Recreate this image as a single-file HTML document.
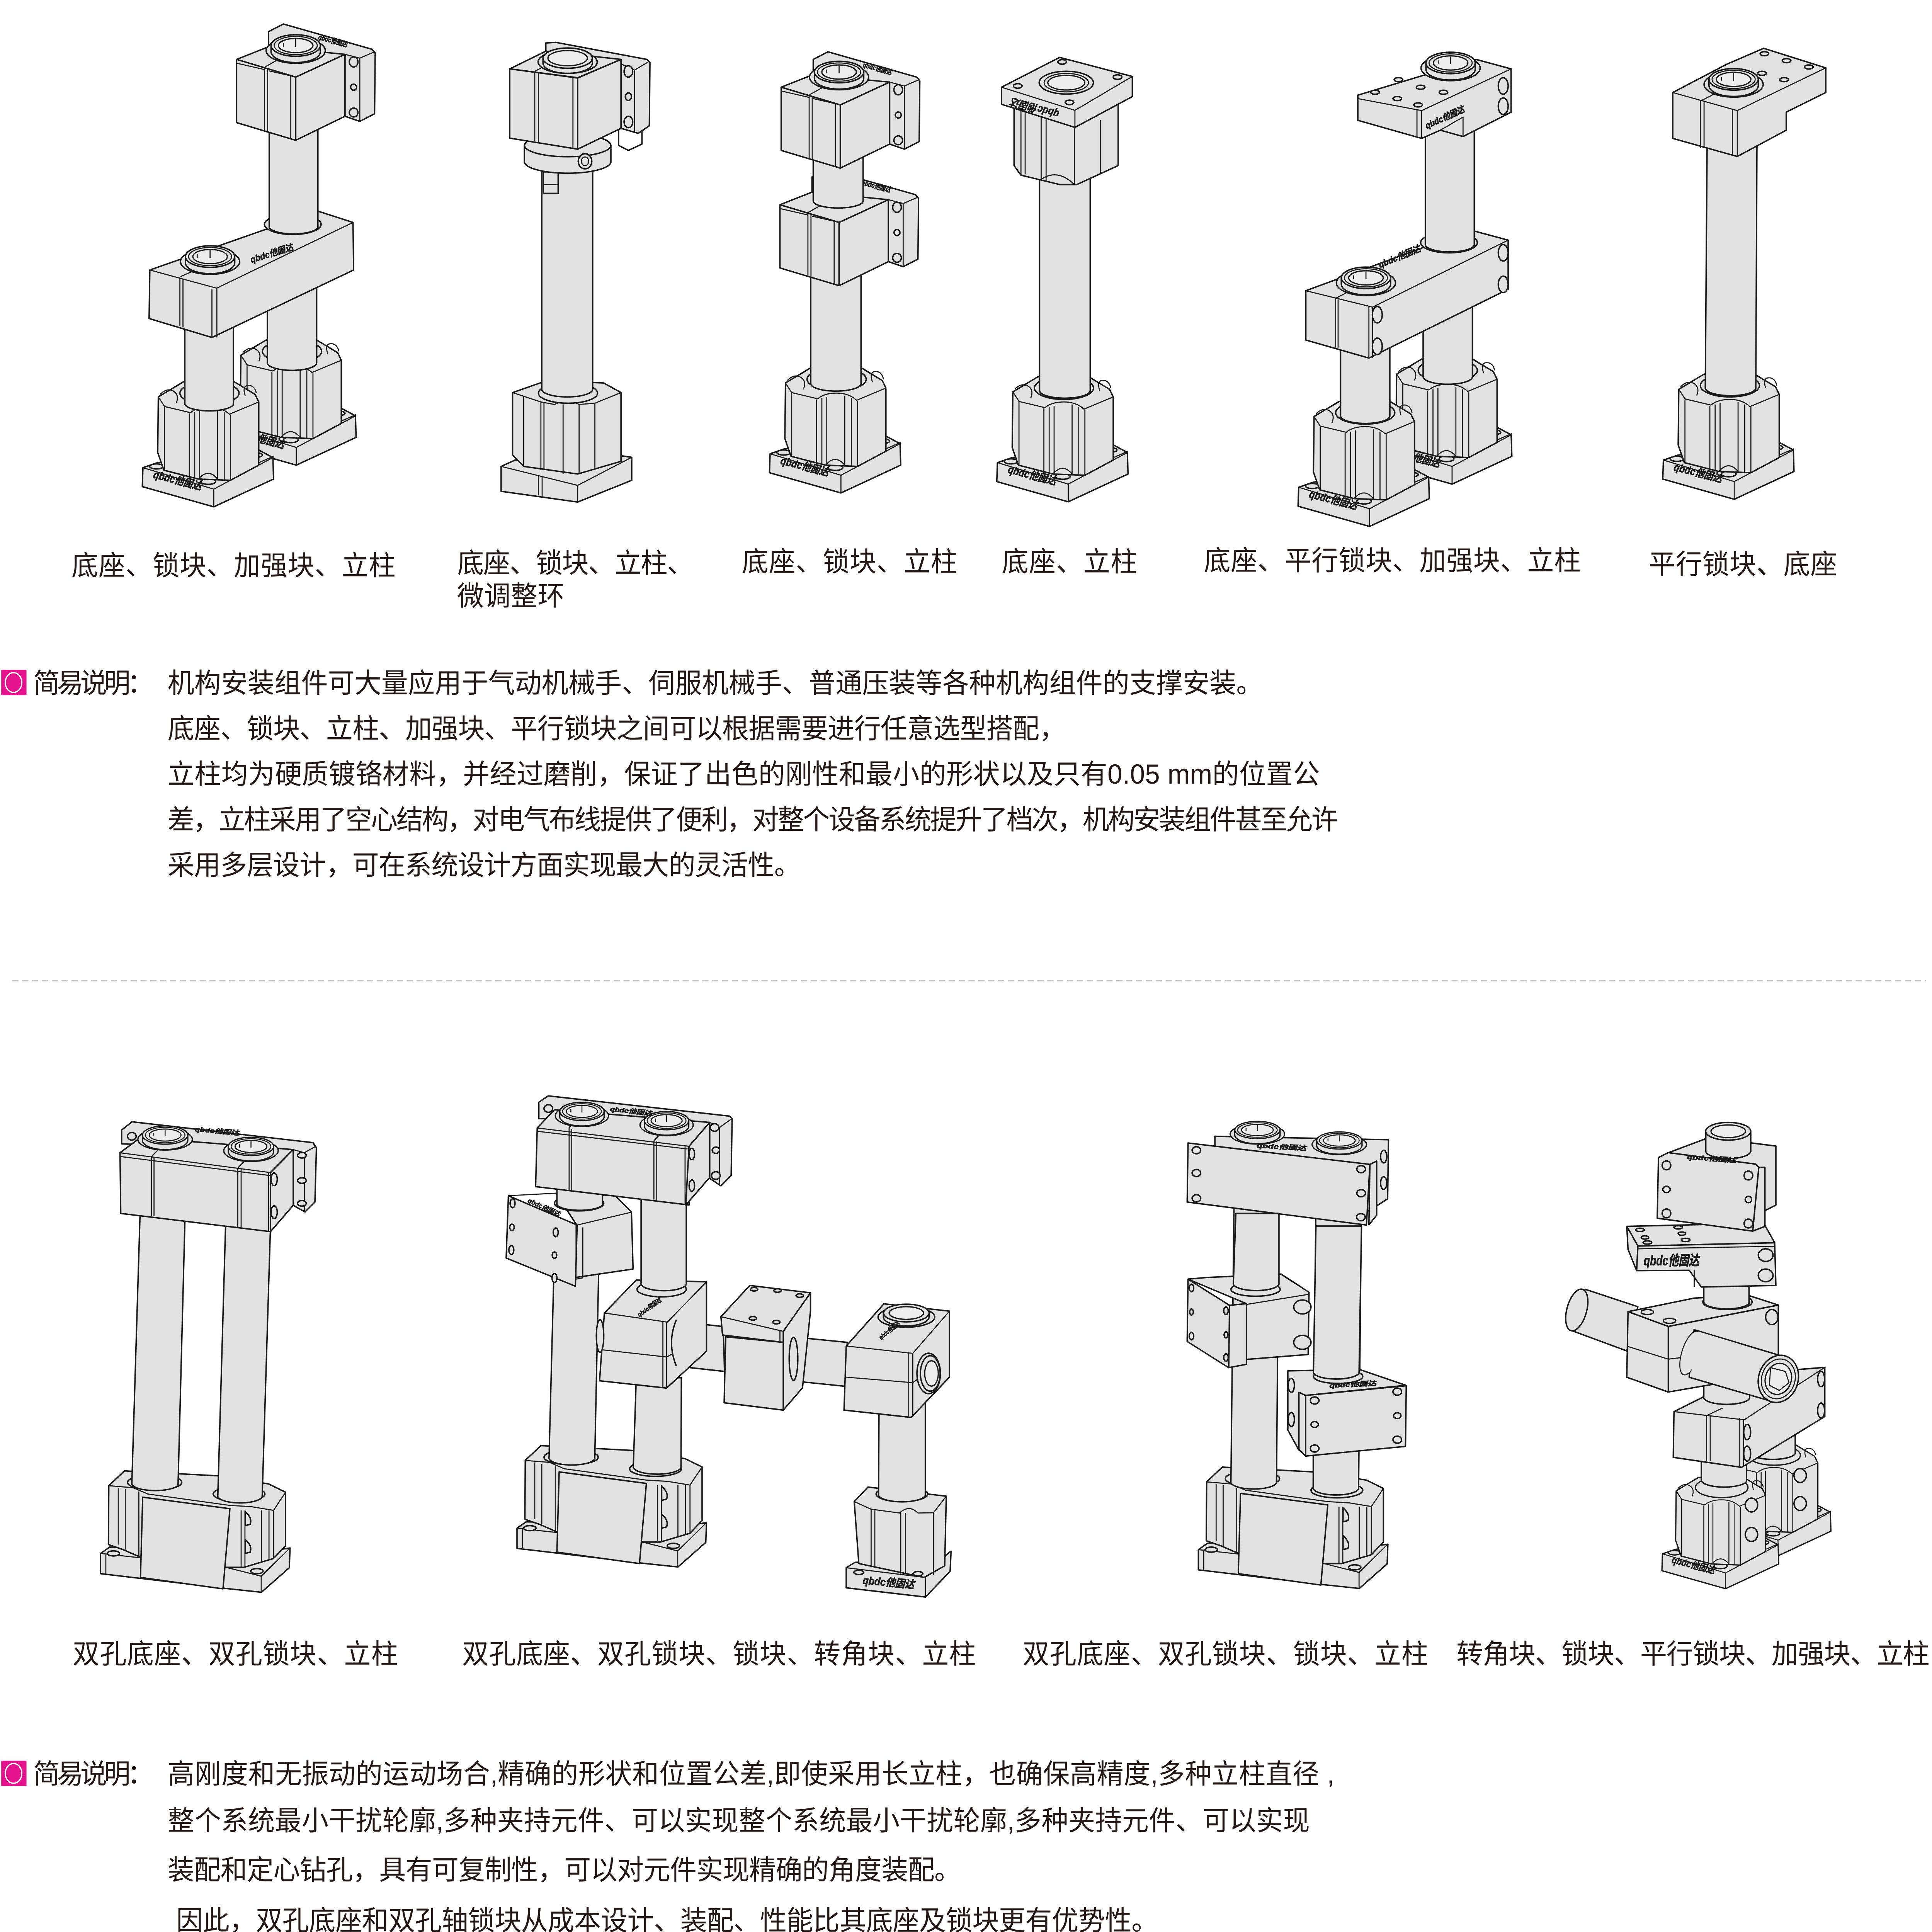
<!DOCTYPE html>
<html lang="zh-CN"><head><meta charset="utf-8"><title>机构安装组件</title>
<style>
html,body{margin:0;padding:0;background:#fff;width:100%;height:100%;overflow:hidden}
svg{display:block;width:100vw;height:100vh}
.f{fill:#e2e2e2;stroke:#1a1a1a;stroke-width:1.15;stroke-linejoin:round}
.l{fill:none;stroke:#1a1a1a;stroke-width:.85;stroke-linejoin:round}
.w{fill:#ededed;stroke:#1a1a1a;stroke-width:1}
.t{font-family:"Liberation Sans","Noto Sans CJK SC",sans-serif;font-size:21.7px;fill:#231815}
.k{font-family:"Liberation Sans","Noto Sans CJK SC",sans-serif;font-size:8.5px;font-weight:700;font-style:italic;fill:#1a1a1a;stroke:#1a1a1a;stroke-width:.3}
</style></head><body>
<svg xmlns="http://www.w3.org/2000/svg" viewBox="0 0 1568 1528.5" preserveAspectRatio="none">
<defs>
<g id="r">
<ellipse class="f" cx="0" cy="4" rx="24" ry="10"/>
<path class="f" d="M-20 0V5A20 8.5 0 0 0 20 5V0Z"/>
<ellipse class="f" cx="0" cy="0" rx="20" ry="8.5"/>
<ellipse class="l" cx="0" cy="0" rx="17.5" ry="7.2"/>
<ellipse class="w" cx="0" cy="0" rx="14" ry="5.6"/>
<path class="l" d="M0 -5V1M-10 -2V1"/>
</g>
<g id="b">
<path class="f" d="M116 370L128 366L210 356L221.5 362L222 379L173.5 401L115.5 385Z"/>
<path class="l" d="M116 370L173.5 387L221.5 362M173.5 387V401M196 372L222 361"/>
<ellipse class="f" cx="127" cy="369" rx="5.5" ry="2"/>
<ellipse class="f" cx="169" cy="381" rx="6" ry="2.2"/>
<ellipse class="f" cx="209" cy="360" rx="4" ry="1.6"/>
<path class="f" d="M128.5 314L149 302L190 302L207 312L210 318V368L187 380L161 379L133 372L128 358Z"/>
<path class="l" d="M128.5 314L133.5 321.6L154.6 326.5Q160 322 170 322Q180 322 186.2 327.7L210 318M133.5 322V372M153.7 327V379M158 326V379M162 325V379M176.6 324V380M182 326V380M187 328V380M161 379Q169 370 176.6 379"/>
<ellipse class="f" cx="170" cy="311" rx="24" ry="9"/>
<path class="l" d="M130 312Q135 307 140 309Q146 312 143 319M199 313Q196 304 203 305Q207 306 208 311"/>
<text class="k" transform="translate(124,378) rotate(14)" textLength="40" lengthAdjust="spacingAndGlyphs">qbdc他固达</text>
</g>
<g id="c">
<path class="f" d="M218 25L230 19L302 39L304.5 42L304 90L292 96L280 92V43L218 40Z"/>
<path class="l" d="M280 43L292 46L304 41M292 46V96"/>
<ellipse class="f" cx="287" cy="49" rx="3.5" ry="4"/>
<ellipse class="f" cx="287" cy="69" rx="2.4" ry="2.4"/>
<ellipse class="f" cx="287" cy="89" rx="3.5" ry="3.5"/>
<path class="f" d="M192 47L218 37L280 43L240 61Z"/>
<path class="f" d="M192 47L240 61V111L192 97Z"/>
<path class="f" d="M240 61L280 43V92L240 111Z"/>
<path class="l" d="M192 50L214.5 55M218 56L236 60M236 60V110M214.7 53V103M217.2 54V104M215 53L226 47"/>
<text class="k" transform="translate(258,31) rotate(15)" textLength="24" lengthAdjust="spacingAndGlyphs" style="font-size:5.5px">qbdc他固达</text>
</g>
<g id="db">
<path class="f" d="M81.6 1229L89 1224L226 1226L235.4 1224.7L234.8 1240.3L212.2 1259.7L186 1257L81.6 1245Z"/>
<path class="f" d="M88.3 1175.4L101 1163.7L177 1167.6L218 1174L231.8 1180.6V1223L222 1233L198 1240L183 1240L114 1232L100 1226L88 1222Z"/>
<path class="l" d="M88.3 1175.4L108 1177L120 1182L186.6 1191L204 1192L222 1194.9L231.8 1180.6M96 1177V1222M101.7 1178V1226M112.7 1180V1232M195.7 1195V1240M198.8 1195V1240M212.2 1195V1236M218.3 1195V1234M222 1195V1233"/>
<path class="l" d="M81.6 1229L114.5 1232.5M183.5 1240L212 1247L235 1225M212 1247V1260M85.9 1230V1245"/>
<ellipse class="f" cx="92" cy="1229" rx="5" ry="2"/>
<ellipse class="f" cx="208.5" cy="1243" rx="5" ry="2"/>
<path class="f" d="M115.8 1184.5L186.6 1193.6L181 1257L114 1248Z"/>
<ellipse class="f" cx="125.5" cy="1172.8" rx="22" ry="6"/>
<ellipse class="f" cx="194" cy="1182" rx="21" ry="6"/>
<path class="f" d="M199 1196Q205 1201 203 1206L199 1207ZM199 1218Q205 1223 203 1228L199 1229Z"/>
</g>
</defs>

<!-- ===== Assembly 1 ===== -->
<use href="#b" transform="translate(67,-33)"/>
<use href="#b"/>
<path class="f" d="M217 225V287A20 6 0 0 0 257 287V225Z"/>
<path class="f" d="M150 245V320A20 6 0 0 0 189.5 320V245Z"/>
<path class="f" d="M121.6 213.6L258 167L286.5 176L287 213.6L172 267L121 252Z"/>
<path class="l" d="M121.6 213.6L175.8 228L286.5 176M172 229V267M176 228V267M146 220V258M148.5 221V259M146 219L158 214"/>
<ellipse class="f" cx="237.6" cy="177.5" rx="23" ry="8"/>
<use href="#r" transform="translate(170.5,203)"/>
<text class="k" transform="translate(204,208) rotate(-17)" textLength="36" lengthAdjust="spacingAndGlyphs" style="font-size:7px">qbdc他固达</text>
<path class="f" d="M218.5 90V180A20 6 0 0 0 258 180V90Z"/>
<use href="#c"/>
<use href="#r" transform="translate(240,36)"/>

<!-- ===== Assembly 2 ===== -->
<path class="f" d="M406.7 369L418 364L500 360L512.7 361.8V380L468.8 397.2L406.7 388.7Z"/>
<path class="l" d="M406.7 369L468.8 384L512.7 361.8M468.8 384V397.2M437 376V392M440 377V393"/>
<path class="f" d="M416 310.6L444.2 301L490 303L504 310.6V365L468.8 375L425 369L416 360Z"/>
<path class="l" d="M416 310.6L439 318L450 320Q460 315 470 320L482.8 319L504 310.6M425 313V369M439 318V372M441.5 318V372M457 320V375M470 320V375M482.8 319V372"/>
<ellipse class="f" cx="461" cy="311" rx="24" ry="8"/>
<path class="f" d="M439.7 133V308A20.5 6 0 0 0 481 308V133Z"/>
<path class="f" d="M441 136H453V153H441Z"/>
<path class="l" d="M441 146H453"/>
<path class="f" d="M502 102L521 100V114L510 119L502 115Z" style="fill:#fff"/>
<path class="f" d="M425.6 115V128A35 9 0 0 0 495.8 128V115Z"/>
<ellipse class="f" cx="460.7" cy="115" rx="35" ry="9"/>
<ellipse class="f" cx="474.8" cy="127.6" rx="5.5" ry="6"/>
<ellipse class="l" cx="474.8" cy="127.6" rx="3" ry="3.4"/>
<g transform="translate(221,7.5) scale(1,1)"><path class="f" d="M222 26.5L230 26L304 39.5L306.5 42L306 92L297 98L283 94V43L222 40Z"/>
<path class="l" d="M283 43L294 48L306 41M294 48V97"/>
<ellipse class="f" cx="289" cy="49" rx="3.5" ry="4.5"/><ellipse class="f" cx="289" cy="69" rx="2.5" ry="3"/><ellipse class="f" cx="289" cy="89" rx="3.5" ry="4.5"/>
<path class="f" d="M192.7 47L222 33L283 39.5L247.8 54Z"/><path class="f" d="M192.7 47L247.8 54.2V110.5L192.7 101.8Z"/><path class="f" d="M247.8 54.2L283 39.5V94L247.8 110.5Z"/>
<path class="l" d="M213 49V104M216 50V105M244 54V110M213 49L226 42"/></g>
<ellipse class="f" cx="460.7" cy="49" rx="24" ry="9"/>
<path class="f" d="M440.7 46V50A20 8 0 0 0 480.7 50V46Z"/><ellipse class="f" cx="460.7" cy="46" rx="20" ry="8"/><ellipse class="w" cx="460.7" cy="46" rx="16" ry="6"/>

<!-- ===== Assembly 3 ===== -->
<use href="#b" transform="translate(509,-11)"/>
<path class="f" d="M658 195V304A20.5 6 0 0 0 698.8 304V195Z"/>
<use href="#c" transform="translate(441,115)"/>
<path class="f" d="M660 100V159A20 5.5 0 0 0 700.5 159V100Z"/>
<use href="#c" transform="translate(442,22)"/>
<use href="#r" transform="translate(681,57)"/>

<!-- ===== Assembly 4 ===== -->
<use href="#b" transform="translate(693.5,-4)"/>
<path class="f" d="M843.7 120V309A20.5 6 0 0 0 884.8 309V120Z"/>
<path class="f" d="M823 75V131L828.6 138.6L860 146L874 146L907.5 131V72Z"/>
<path class="l" d="M828.6 82V138.6M832 85V138M845 90V142Q858 133 872 146M849 92V143M872 100V146M893 95V137"/>
<path class="f" d="M812.8 69L860 45.4L919 60.5L919 76.4L872.4 100.8L812.8 82.5Z"/>
<path class="l" d="M812.8 69L872.4 87.3L919 60.5M872.4 87.3V100.8M893 90L905 84"/>
<ellipse class="f" cx="865.4" cy="65.4" rx="22" ry="9"/><ellipse class="l" cx="865.4" cy="65.4" rx="18" ry="7.3"/><ellipse class="w" cx="865.4" cy="65.4" rx="15" ry="5.8"/>
<ellipse class="f" cx="826" cy="68" rx="3.5" ry="1.8"/><ellipse class="f" cx="862" cy="49" rx="3.5" ry="1.8"/><ellipse class="f" cx="907" cy="61" rx="3.5" ry="1.8"/><ellipse class="f" cx="868" cy="81" rx="3.5" ry="1.8"/>
<text class="k" transform="translate(860,88) rotate(195)" textLength="40" lengthAdjust="spacingAndGlyphs">qbdc他固达</text>

<!-- ===== Assembly 5 ===== -->
<use href="#b" transform="translate(1005,-18)"/>
<use href="#b" transform="translate(938,15.5)"/>
<path class="f" d="M1155 240V298A20 6 0 0 0 1195 298V240Z"/>
<path class="f" d="M1088 250V329A20 6 0 0 0 1128 329V250Z"/>
<path class="f" d="M1059.8 230L1193.5 182L1224 190V228.8L1111 283.3L1059.8 269Z"/>
<path class="l" d="M1059.8 230L1114 243L1224 190M1111 243V283M1114 243V283M1084 236V275M1086 237V275M1084 236L1096 230"/>
<ellipse class="f" cx="1220" cy="200" rx="4" ry="6.5"/><ellipse class="f" cx="1220" cy="225" rx="4" ry="6.5"/><ellipse class="f" cx="1117.8" cy="249" rx="4" ry="6.5"/><ellipse class="f" cx="1117.8" cy="274" rx="4" ry="6.5"/>
<ellipse class="f" cx="1176" cy="192" rx="23" ry="8"/>
<text class="k" transform="translate(1120,212) rotate(-22)" textLength="36" lengthAdjust="spacingAndGlyphs" style="font-size:7px">qbdc他固达</text>
<use href="#r" transform="translate(1108.6,219.8)"/>
<path class="f" d="M1156.8 90V194A20 6 0 0 0 1196.5 194V90Z"/>
<path class="f" d="M1102 75.3L1198 47L1226.4 54.5V88.8L1187.4 108L1169 103L1153.8 109.5L1102 95.2Z"/>
<path class="l" d="M1102 78L1153.8 87.5L1226.4 54.5M1150 87V109M1153.8 87.5V109.5M1187.4 92.6V108M1169 103L1187.4 92.6"/>
<ellipse class="f" cx="1220" cy="68" rx="4" ry="6.5"/><ellipse class="f" cx="1220" cy="84" rx="4" ry="6.5"/>
<ellipse class="f" cx="1116" cy="73" rx="3.5" ry="1.6"/><ellipse class="f" cx="1135" cy="63" rx="3.5" ry="1.6"/><ellipse class="f" cx="1153" cy="69" rx="3.5" ry="1.6"/><ellipse class="f" cx="1171.5" cy="73" rx="3.5" ry="1.6"/><ellipse class="f" cx="1134" cy="78" rx="3.5" ry="1.6"/><ellipse class="f" cx="1151" cy="83" rx="3.5" ry="1.6"/>
<text class="k" transform="translate(1158,102) rotate(-24)" textLength="34" lengthAdjust="spacingAndGlyphs" style="font-size:7px">qbdc他固达</text>
<use href="#r" transform="translate(1177.3,49.8)"/>

<!-- ===== Assembly 6 ===== -->
<use href="#b" transform="translate(1234,-6)"/>
<path class="f" d="M1385.6 100L1384 307A20.5 6 0 0 0 1425 307L1426 100Z"/>
<path class="f" d="M1357.6 73.2L1401 51L1431.4 38.2L1481.8 53.7V73.2L1449.7 88.7V103L1410 123.8L1357.6 109.5Z"/>
<path class="l" d="M1357.6 73.2L1410 87.5L1481.8 53.7M1406 87V123M1410 87.5V123.8M1380 80V117M1383 81V117M1380 80L1392 74"/>
<ellipse class="f" cx="1432" cy="42.5" rx="3.5" ry="1.6"/><ellipse class="f" cx="1450" cy="48" rx="3.5" ry="1.6"/><ellipse class="f" cx="1468" cy="53" rx="3.5" ry="1.6"/><ellipse class="f" cx="1448" cy="63" rx="3.5" ry="1.6"/><ellipse class="f" cx="1430" cy="58" rx="3.5" ry="1.6"/>
<use href="#r" transform="translate(1407,62.8)"/>

<!-- ===== Bottom 1 ===== -->
<use href="#db"/>
<path class="f" d="M114 950L107 1174A19 5.5 0 0 0 144.5 1175L150.5 950Z"/>
<path class="f" d="M183.5 955L176.8 1183A18 5.5 0 0 0 212.8 1184L220 955Z"/>
<path class="f" d="M98.7 894L107.2 887.5L254 904L256.8 908L255.6 951L247.6 958.8L237.9 953.6V909.5L98.7 905Z"/>
<path class="l" d="M238 909.5L247 912L256 907M247 912V958"/>
<ellipse class="f" cx="245" cy="914" rx="3.5" ry="2.2"/><ellipse class="f" cx="245" cy="934" rx="3.5" ry="2.2"/><ellipse class="f" cx="245" cy="952" rx="3.5" ry="2.2"/><ellipse class="f" cx="107" cy="899" rx="3.5" ry="3"/>
<path class="f" d="M97.4 912L114 900L238 909.5L219.5 927.7V974.4L98 960Z"/>
<path class="f" d="M219.5 927.7L238 909.5V953.6L219.5 974.4Z"/>
<path class="l" d="M97.4 912L219.5 927.7M98 915L219 930M123 915V962M125 916V962M193 924V971M195.7 925V971M218 928V974M123 915L130 908M193 924L200 917"/>
<ellipse class="f" cx="222.5" cy="933" rx="2.5" ry="5"/><ellipse class="f" cx="222.5" cy="959" rx="2.5" ry="5"/>
<use href="#r" transform="translate(134,898) scale(.92,.85)"/>
<use href="#r" transform="translate(203.7,907) scale(.92,.85)"/>
<text class="k" transform="translate(158,895) rotate(5)" textLength="36" lengthAdjust="spacingAndGlyphs" style="font-size:5px">qbdc他固达</text>

<!-- ===== Bottom 2 ===== -->
<use href="#db" transform="translate(338,-20)"/>
<path class="f" d="M449.7 1000L445.6 1153A18.5 5.5 0 0 0 482.7 1154L486 1000Z"/>
<path class="f" d="M516.4 1090L514 1160A18.5 5.5 0 0 0 552.7 1161L553 1090Z"/>
<path class="f" d="M451.5 944.6L499.5 946L512.5 959L513.8 1004L467 1010.7L468 969Z"/>
<ellipse class="f" cx="470" cy="952" rx="20" ry="6"/>
<path class="f" d="M452 930V952A18.5 5 0 0 0 489 953V930Z"/>
<path class="f" d="M412.6 946L468.4 969.2L467 1017.6L410.8 995.3Z"/>
<path class="l" d="M412.6 946L451 944M468.4 969.2L512.5 959M467.5 969V1012L473 1011V971"/>
<ellipse class="f" cx="416" cy="952" rx="2" ry="3.5"/><ellipse class="f" cx="415.5" cy="971" rx="1.8" ry="2.5"/><ellipse class="f" cx="415" cy="989" rx="2" ry="3.5"/><ellipse class="f" cx="451" cy="975" rx="2" ry="3.5"/><ellipse class="f" cx="450" cy="993" rx="1.8" ry="2.5"/><ellipse class="f" cx="450" cy="1011" rx="2" ry="3.5"/>
<text class="k" transform="translate(428,951) rotate(24)" textLength="28" lengthAdjust="spacingAndGlyphs" style="font-size:5px">qbdc他固达</text>
<path class="f" d="M548.8 1045.4L587 1049.5L588 1085L548.8 1080.8Z"/>
<path class="f" d="M642.2 1057.6L687.6 1062L686.3 1096.8L642.2 1092.4Z"/>
<path class="f" d="M490.5 1038.8L516.4 1012.7L573.4 1014.1V1069L541 1098.2L486.6 1092.4Z"/>
<path class="l" d="M490.5 1038.8L541.6 1046L573.4 1014.1M487.9 1067.8L541 1073.6L548 1070M541 1046V1098M538 1046V1098"/>
<path class="f" d="M549 1044Q541 1062 549 1081" />
<ellipse class="f" cx="487" cy="1057" rx="3" ry="13"/>
<ellipse class="f" cx="537" cy="1020" rx="20" ry="6"/>
<path class="f" d="M520.3 940V1015A18 5.5 0 0 0 557 1016V940Z"/>
<text class="k" transform="translate(519,1042) rotate(-35)" textLength="22" lengthAdjust="spacingAndGlyphs" style="font-size:5px">qbdc他固达</text>
<path class="f" d="M635.7 1053L657.8 1022.8V1037L651.3 1098L635.7 1115.6Z"/>
<path class="f" d="M589 1057.6L635.7 1062V1115.6L587.7 1109.8Z"/>
<path class="f" d="M585.1 1041.7L608.5 1017L657.8 1022.8L635.7 1053.3V1062L586.4 1056.2Z"/>
<path class="l" d="M585.1 1041.7L635.7 1053.3M633 1053V1062"/>
<ellipse class="f" cx="612" cy="1020" rx="3" ry="1.4"/><ellipse class="f" cx="631" cy="1021" rx="3" ry="1.4"/><ellipse class="f" cx="649" cy="1025" rx="3" ry="1.4"/><ellipse class="f" cx="611" cy="1043" rx="3" ry="1.4"/><ellipse class="f" cx="630" cy="1046" rx="3" ry="1.4"/>
<ellipse class="f" cx="644" cy="1075" rx="3.5" ry="17"/>
<path class="f" d="M686.8 1240.3L694 1236L760 1236L771.9 1227.2L771.1 1243.2L751.1 1263.5L686.8 1256.2Z"/>
<path class="l" d="M686.8 1240.3L751 1248L771.5 1227.2M751 1248V1263.5"/>
<path class="f" d="M693.3 1188L704.4 1176.5L768 1183.7L766.7 1238.8L750 1248L697 1237Z"/>
<path class="l" d="M693.3 1188L707 1194L730 1197Q738 1190 745 1197L757.6 1196.8L768 1183.7M707 1194V1240M710 1195V1240M731 1197V1245M735 1197V1245M757.6 1197V1246"/>
<ellipse class="f" cx="732" cy="1182" rx="21" ry="6"/>
<path class="f" d="M713.5 1100L713 1182A18.5 5.5 0 0 0 751 1183L751 1100Z"/>
<path class="f" d="M686.8 1064.9L717.4 1031.5L770.6 1037.3V1089.5L739.5 1121.4L685 1115.6Z"/>
<path class="l" d="M686.8 1064.9L740.8 1070.7L770.6 1037.3M686.3 1089.5L740.8 1093.9L748 1089M740.8 1070.7V1121M737.5 1070V1121"/>
<ellipse class="f" cx="735.6" cy="1042" rx="23" ry="8"/>
<path class="f" d="M717 1038V1042A18.5 7 0 0 0 754 1042V1038Z"/><ellipse class="f" cx="735.6" cy="1038.8" rx="18.5" ry="7"/><ellipse class="w" cx="735.6" cy="1038.8" rx="14" ry="5"/>
<text class="k" transform="translate(715,1060) rotate(-38)" textLength="20" lengthAdjust="spacingAndGlyphs" style="font-size:5px">qbdc他固达</text>
<ellipse class="f" cx="753.7" cy="1086.6" rx="9.5" ry="16"/><ellipse class="f" cx="755" cy="1086.6" rx="8" ry="14"/><ellipse class="w" cx="756" cy="1086.6" rx="5.5" ry="10"/>
<ellipse class="f" cx="697" cy="1244" rx="4" ry="1.7"/><ellipse class="f" cx="745" cy="1245" rx="4" ry="1.7"/>
<text class="k" transform="translate(700,1253) rotate(5)" textLength="42" lengthAdjust="spacingAndGlyphs">qbdc他固达</text>
<!-- top double clamp -->
<path class="f" d="M437.3 872L445 867L592 883L594.2 885.1L593.4 930L585.1 938.2L574.8 931.5L576 888L437.3 885Z"/>
<path class="l" d="M576 888L584 892L594 885M584 892V938"/>
<ellipse class="f" cx="580" cy="892" rx="3.5" ry="3"/><ellipse class="f" cx="581" cy="910" rx="3" ry="2.5"/><ellipse class="f" cx="581" cy="930" rx="3.5" ry="3"/><ellipse class="f" cx="445" cy="877" rx="3.5" ry="3"/>
<path class="f" d="M436 892.4L450 878L576 888L559.2 906.9V953.3L434.7 938.8Z"/>
<path class="f" d="M559.2 906.9L576 888V931.5L556.6 953.3Z"/>
<path class="l" d="M436 892.4L559.2 906.9M436 895L558 909M461.9 892V941.7M464 893V942M530.7 902.5V949M533 903V950M556 907V953M461.9 892L469 885M530.7 902.5L538 895"/>
<ellipse class="f" cx="561.5" cy="913" rx="2.2" ry="4.5"/><ellipse class="f" cx="561.5" cy="938" rx="2.2" ry="4.5"/>
<use href="#r" transform="translate(472.3,879.3) scale(.9,.85)"/>
<use href="#r" transform="translate(541,886.6) scale(.9,.85)"/>
<text class="k" transform="translate(495,879) rotate(6)" textLength="34" lengthAdjust="spacingAndGlyphs" style="font-size:5px">qbdc他固达</text>

<!-- ===== Bottom 3 ===== -->
<use href="#db" transform="translate(891,-3)"/>
<path class="f" d="M1001.6 945L999 1172A18.5 5.5 0 0 0 1036 1173L1038 945Z"/>
<path class="f" d="M1068 950L1065.8 1177A18.5 5.5 0 0 0 1102.6 1178L1105 950Z"/>
<path class="f" d="M986 899L1126.9 901.7L1126.2 948.4L1111 958L986 920Z"/>
<ellipse class="f" cx="1123" cy="915" rx="2.5" ry="5"/><ellipse class="f" cx="1123" cy="936" rx="2.5" ry="5"/>
<use href="#r" transform="translate(1020.5,894) scale(.92,.8)"/>
<use href="#r" transform="translate(1087,902.3) scale(.92,.8)"/>
<text class="k" transform="translate(1020,908) rotate(3)" textLength="40" lengthAdjust="spacingAndGlyphs" style="font-size:5px">qbdc他固达</text>
<path class="f" d="M1111.8 921.2L1117.3 918.6V961.4L1111 969Z"/>
<path class="f" d="M964.2 904.3L1111.8 921.2L1109 969.2L963.5 951Z"/>
<ellipse class="f" cx="971" cy="910" rx="3.5" ry="2.8"/><ellipse class="f" cx="971" cy="928" rx="3.5" ry="2.8"/><ellipse class="f" cx="971" cy="948" rx="3.5" ry="2.8"/><ellipse class="f" cx="1104.7" cy="925" rx="3.5" ry="2.8"/><ellipse class="f" cx="1104.7" cy="944" rx="3.5" ry="2.8"/><ellipse class="f" cx="1104.5" cy="963" rx="3.5" ry="2.8"/>
<path class="f" d="M964.2 1012L979.3 1010.7L1039.7 1008L1062.4 1022.4L1061.7 1071.6L1011.6 1075.5V1031.4Z"/>
<ellipse class="f" cx="1019" cy="1020" rx="20" ry="5.5"/>
<path class="f" d="M1003 960L1001 1015A18.5 5.5 0 0 0 1038 1016L1038 960Z"/>
<path class="f" d="M997.9 1032.7L1011.6 1031.4V1079.4L997.2 1082Z"/>
<path class="f" d="M964.2 1012L997.9 1032.7L997.2 1082L963.5 1061.3Z"/>
<path class="l" d="M1011.6 1032L1062 1024"/>
<ellipse class="f" cx="1057" cy="1034" rx="7" ry="5.5"/><ellipse class="f" cx="1057" cy="1062" rx="7" ry="5.5"/>
<ellipse class="f" cx="967" cy="1019" rx="1.8" ry="3"/><ellipse class="f" cx="967" cy="1038" rx="1.5" ry="2.4"/><ellipse class="f" cx="967" cy="1057" rx="1.8" ry="3"/><ellipse class="f" cx="995" cy="1037" rx="1.8" ry="3"/><ellipse class="f" cx="995" cy="1056" rx="1.5" ry="2.4"/><ellipse class="f" cx="995" cy="1074" rx="1.8" ry="3"/>
<path class="f" d="M1045.2 1084.6L1102.9 1083.3L1141 1096L1059.6 1104L1054 1147L1045.2 1131.3Z"/>
<ellipse class="f" cx="1086" cy="1089" rx="20" ry="5.5"/>
<path class="f" d="M1068 970L1066 1085A18.5 5.5 0 0 0 1103 1086L1105 970Z"/>
<path class="f" d="M1065.8 1140V1177A18.5 5.5 0 0 0 1102.6 1178V1140Z"/>
<path class="f" d="M1054.2 1101.5L1059.6 1104V1152L1054.2 1146.9Z"/>
<path class="f" d="M1059.6 1104L1141.3 1096.3L1140.7 1144.3L1059.6 1152Z"/>
<ellipse class="f" cx="1048" cy="1096" rx="2.5" ry="5.5"/><ellipse class="f" cx="1048" cy="1123" rx="2.5" ry="5.5"/>
<ellipse class="f" cx="1067" cy="1108" rx="3.5" ry="2.8"/><ellipse class="f" cx="1067" cy="1127" rx="3" ry="2.3"/><ellipse class="f" cx="1067" cy="1146" rx="3.5" ry="2.8"/><ellipse class="f" cx="1134" cy="1101" rx="3.5" ry="2.8"/><ellipse class="f" cx="1134" cy="1120" rx="3" ry="2.3"/><ellipse class="f" cx="1134" cy="1139" rx="3.5" ry="2.8"/>
<text class="k" transform="translate(1079,1098) rotate(-3)" textLength="38" lengthAdjust="spacingAndGlyphs" style="font-size:5px">qbdc他固达</text>

<!-- ===== Bottom 4 ===== -->
<g transform="translate(1289.5,876) scale(.885,.885)"><use href="#b"/></g>
<ellipse class="f" cx="1461" cy="1167.4" rx="5" ry="5.5"/><ellipse class="f" cx="1461" cy="1189.5" rx="5" ry="5.5"/>
<path class="f" d="M1420.5 1120V1150A18.5 5.5 0 0 0 1457 1150V1120Z"/>
<g transform="translate(1246,900) scale(.89,.89)"><use href="#b"/></g>
<ellipse class="f" cx="1421.5" cy="1190.7" rx="5" ry="5.5"/><ellipse class="f" cx="1421.5" cy="1214" rx="5" ry="5.5"/>
<path class="f" d="M1380.8 1140V1171A18.5 5.5 0 0 0 1417.5 1172V1140Z"/>
<path class="f" d="M1358.6 1116.8L1382.8 1105L1440 1085L1481 1081.8V1120.7L1413.5 1160.9L1358 1153Z"/>
<path class="l" d="M1358.6 1116.8L1415.5 1123.3L1481 1081.8M1412 1122V1160M1415 1123V1160M1385 1120V1156M1388 1120V1156M1385 1120L1398 1114"/>
<ellipse class="f" cx="1418" cy="1133" rx="2.8" ry="6"/><ellipse class="f" cx="1418" cy="1150" rx="2.8" ry="6"/><ellipse class="f" cx="1478" cy="1091" rx="2.8" ry="6"/><ellipse class="f" cx="1478" cy="1116" rx="2.8" ry="6"/>
<path class="f" d="M1382.8 1085V1105A18.5 5.5 0 0 0 1420 1106V1085Z"/>
<path class="f" d="M1321.3 1037.7L1354 1049.4L1443.3 1032.5V1090L1392.7 1094.8L1354 1101.3L1320.3 1089.6Z"/>
<path class="f" d="M1286.6 1020L1329.3 1033.8L1320.3 1068.8L1273.7 1052Z"/>
<ellipse class="f" cx="1279.7" cy="1036.4" rx="8" ry="17" transform="rotate(16 1279.7 1036.4)"/>
<path class="f" d="M1321.3 1037.7L1354 1049.4L1354 1101.3L1320.3 1089.6Z"/>
<path class="f" d="M1321.3 1037.7L1375 1027L1418.5 1024.7L1443.3 1032.5L1354 1049.4Z"/>
<path class="l" d="M1320.3 1065L1354 1075.3L1365 1074"/>
<ellipse class="f" cx="1337" cy="1038" rx="5" ry="2"/><ellipse class="f" cx="1355" cy="1045" rx="5" ry="2"/><ellipse class="f" cx="1438" cy="1042" rx="5" ry="6"/>
<ellipse class="f" cx="1402" cy="1030" rx="20" ry="6"/>
<path class="f" d="M1382.8 1010V1030A18.5 5.5 0 0 0 1419.5 1031V1010Z"/>
<path class="f" d="M1320.3 970.2L1431.4 967.7L1440.3 983.2L1329.3 985.8Z"/>
<path class="f" d="M1320.3 970.2L1329.3 985.8L1328.3 1005.3L1321.3 988.4Z"/>
<path class="f" d="M1329.3 985.8L1440.3 983.2L1441.3 1017L1380.8 1018.2L1371 1005L1328.3 1005.3Z"/>
<path class="l" d="M1329.3 988L1440 986M1375 1005V1018"/>
<ellipse class="f" cx="1433" cy="993" rx="6" ry="5"/><ellipse class="f" cx="1433" cy="1009" rx="6" ry="5"/>
<ellipse class="f" cx="1331" cy="973" rx="3.5" ry="1.3"/><ellipse class="f" cx="1335" cy="979" rx="3" ry="1.3"/><ellipse class="f" cx="1337" cy="983" rx="3.5" ry="1.3"/><ellipse class="f" cx="1362" cy="971" rx="3.5" ry="1.3"/><ellipse class="f" cx="1365" cy="976" rx="3" ry="1.3"/><ellipse class="f" cx="1368" cy="981" rx="3.5" ry="1.3"/>
<text class="k" transform="translate(1334,1001)" textLength="45" lengthAdjust="spacingAndGlyphs" style="font-size:11px">qbdc他固达</text>
<path class="f" d="M1386.8 900L1441.3 906.7V953.4L1432 958V925L1354 912Z"/>
<path class="f" d="M1427.4 923.6L1432.4 923.6V970.3L1422.5 974Z"/>
<path class="f" d="M1384.4 896V910A18 6 0 0 0 1420.9 911V896Z"/>
<ellipse class="f" cx="1402.6" cy="895" rx="18.3" ry="7"/><ellipse class="w" cx="1402.6" cy="895" rx="14" ry="5"/>
<path class="f" d="M1346 915.8L1354 911.9L1425 921L1427.4 923.6L1422.5 974L1345 963.8Z"/>
<ellipse class="f" cx="1352.5" cy="922" rx="3.5" ry="3.5"/><ellipse class="f" cx="1352.5" cy="941" rx="3" ry="2.5"/><ellipse class="f" cx="1352.5" cy="960" rx="3.5" ry="3.5"/><ellipse class="f" cx="1419" cy="930" rx="3.5" ry="3.5"/><ellipse class="f" cx="1419" cy="949" rx="2.6" ry="2.5"/><ellipse class="f" cx="1419" cy="968" rx="3.5" ry="3.5"/>
<text class="k" transform="translate(1369,917) rotate(4)" textLength="40" lengthAdjust="spacingAndGlyphs" style="font-size:5px">qbdc他固达</text>
<path class="f" d="M1374.9 1052L1450.2 1074L1434.4 1107.7L1370.9 1089.6Z"/>
<ellipse class="f" cx="1372" cy="1070.5" rx="7" ry="18" transform="rotate(18 1372 1070.5)" style="stroke-width:.8"/>
<path d="M1378 1053L1440 1072L1428 1105L1372 1089Z" fill="#e2e2e2"/>
<path class="l" d="M1374.9 1052L1450.2 1074M1370.9 1089.6L1434.4 1107.7"/>
<ellipse class="f" cx="1443.3" cy="1090.9" rx="16" ry="19" transform="rotate(20 1443.3 1090.9)"/>
<ellipse class="l" cx="1443.3" cy="1090.9" rx="13.5" ry="16" transform="rotate(20 1443.3 1090.9)"/>
<ellipse class="w" cx="1443.3" cy="1090.9" rx="10.5" ry="12.5" transform="rotate(20 1443.3 1090.9)"/>
<path class="l" d="M1437 1082L1449 1085L1452 1094L1444 1100L1436 1096Z"/>

<!-- ===== Text ===== -->
<g class="t">
<text x="58" y="455" textLength="263">底座、锁块、加强块、立柱</text>
<text x="371" y="453" textLength="192">底座、锁块、立柱、</text>
<text x="371" y="479" textLength="87">微调整环</text>
<text x="602" y="452" textLength="175">底座、锁块、立柱</text>
<text x="813" y="452" textLength="110">底座、立柱</text>
<text x="977" y="451" textLength="306">底座、平行锁块、加强块、立柱</text>
<text x="1338" y="454" textLength="153">平行锁块、底座</text>

<text x="27" y="548" textLength="98">简易说明&#xFF1A;</text>
<text x="136" y="548" textLength="889">机构安装组件可大量应用于气动机械手、伺服机械手、普通压装等各种机构组件的支撑安装。</text>
<text x="136" y="584" textLength="729">底座、锁块、立柱、加强块、平行锁块之间可以根据需要进行任意选型搭配&#xFF0C;</text>
<text x="136" y="620" textLength="935">立柱均为硬质镀铬材料&#xFF0C;并经过磨削&#xFF0C;保证了出色的刚性和最小的形状以及只有0.05 mm的位置公</text>
<text x="136" y="656" textLength="950">差&#xFF0C;立柱采用了空心结构&#xFF0C;对电气布线提供了便利&#xFF0C;对整个设备系统提升了档次&#xFF0C;机构安装组件甚至允许</text>
<text x="136" y="692" textLength="514">采用多层设计&#xFF0C;可在系统设计方面实现最大的灵活性。</text>

<text x="59" y="1316" textLength="264">双孔底座、双孔锁块、立柱</text>
<text x="375" y="1316" textLength="417">双孔底座、双孔锁块、锁块、转角块、立柱</text>
<text x="830" y="1316" textLength="329">双孔底座、双孔锁块、锁块、立柱</text>
<text x="1182" y="1316" textLength="384">转角块、锁块、平行锁块、加强块、立柱</text>

<text x="27" y="1411" textLength="98">简易说明&#xFF1A;</text>
<text x="136" y="1411" textLength="947">高刚度和无振动的运动场合,精确的形状和位置公差,即使采用长立柱&#xFF0C;也确保高精度,多种立柱直径 ,</text>
<text x="136" y="1448" textLength="927">整个系统最小干扰轮廓,多种夹持元件、可以实现整个系统最小干扰轮廓,多种夹持元件、可以实现</text>
<text x="136" y="1487" textLength="644">装配和定心钻孔&#xFF0C;具有可复制性&#xFF0C;可以对元件实现精确的角度装配。</text>
<text x="143" y="1527" textLength="797">因此&#xFF0C;双孔底座和双孔轴锁块从成本设计、装配、性能比其底座及锁块更有优势性。</text>
</g>

<rect x="1" y="530" width="20.5" height="20" fill="#e4128c"/>
<ellipse cx="11" cy="540" rx="6.7" ry="7.8" fill="none" stroke="#fff" stroke-width="1"/>
<rect x="1" y="1393" width="20.5" height="20" fill="#e4128c"/>
<ellipse cx="11" cy="1403" rx="6.7" ry="7.8" fill="none" stroke="#fff" stroke-width="1"/>
<line x1="10" y1="776" x2="1563" y2="776" stroke="#8a8a8a" stroke-width=".6" stroke-dasharray="5 3"/>
</svg>
</body></html>
